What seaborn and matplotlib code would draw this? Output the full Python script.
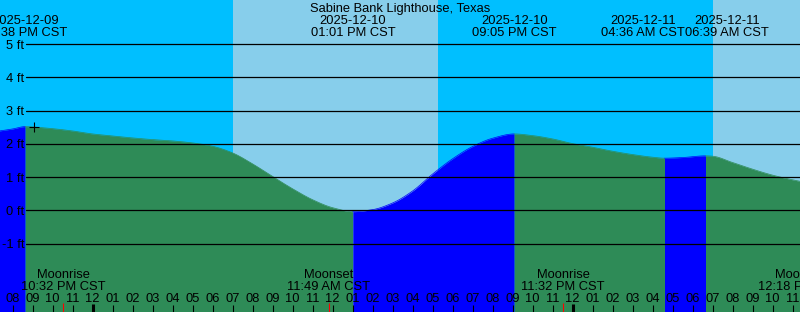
import matplotlib
matplotlib.use("Agg")
import matplotlib.pyplot as plt
import matplotlib.transforms as mtransforms
import seaborn as sns
import numpy as np
import pandas as pd

# ---------------- data (hours relative to 2025-12-10 00:00 CST) ----------------
title = "Sabine Bank Lighthouse, Texas"

tide_hours = [-5, -4, -3.367, -3, -2, -1, 0, 1, 2, 3, 4, 5, 6, 7, 8, 9, 10, 11, 12,
              13.017, 14, 15, 16, 17, 18, 19, 20, 21.083, 22, 23, 24, 25, 26, 27, 28,
              28.6, 29.5, 30.65, 31, 32, 33, 34, 35, 36]
tide_ft = [2.36, 2.45, 2.52, 2.51, 2.46, 2.39, 2.30, 2.24, 2.18, 2.13, 2.09, 2.03, 1.93,
           1.73, 1.40, 1.02, 0.65, 0.32, 0.08,
           -0.04, 0.02, 0.22, 0.58, 1.09, 1.55, 1.92, 2.17, 2.30, 2.25, 2.15, 2.01, 1.90,
           1.78, 1.68, 1.60,
           1.57, 1.59, 1.64, 1.63, 1.44, 1.24, 1.06, 0.92, 0.80]

event_hours = [-3.367, 13.017, 21.083, 28.6, 30.65]
event_dates = ["2025-12-09", "2025-12-10", "2025-12-10", "2025-12-11", "2025-12-11"]
event_times = ["08:38 PM CST", "01:01 PM CST", "09:05 PM CST", "04:36 AM CST", "06:39 AM CST"]

moon_hours = [-1.467, 11.817, 23.533, 36.3]
moon_names = ["Moonrise", "Moonset", "Moonrise", "Moonset"]
moon_times = ["10:32 PM CST", "11:49 AM CST", "11:32 PM CST", "12:18 PM CST"]

sunrise_hours = [7.0, 31.0]
sunset_hours = [17.27]

ft_levels = [-1, 0, 1, 2, 3, 4, 5]
ft_labels = ["-1 ft", "0 ft", "1 ft", "2 ft", "3 ft", "4 ft", "5 ft"]

marker_hour = -2.925
marker_ft = 2.51

# ---------------- style ----------------
sns.set_theme(style="white")
plt.rcParams["font.family"] = ["Liberation Sans", "DejaVu Sans"]
FS = 9.3

W, H = 800, 312
fig = plt.figure(figsize=(W / 100, H / 100), dpi=100)
ax = fig.add_axes([0, 0, 1, 1])
XMIN, XMAX = -4.625, 35.375
YMIN, YMAX = -3.063, 6.334

NIGHT = "#00BFFF"
DAY = "#87CEEB"
RISE = "#0000FF"
FALL = "#2E8B57"


def smooth_curve(x, y, n=12):
    """Monotone cubic (Fritsch-Carlson) rendering of the read points."""
    x = np.asarray(x, float)
    y = np.asarray(y, float)
    h = np.diff(x)
    d = np.diff(y) / h
    m = np.zeros_like(y)
    m[0], m[-1] = d[0], d[-1]
    for i in range(1, len(y) - 1):
        if d[i - 1] * d[i] <= 0:
            m[i] = 0.0
        else:
            w1 = 2 * h[i] + h[i - 1]
            w2 = h[i] + 2 * h[i - 1]
            m[i] = (w1 + w2) / (w1 / d[i - 1] + w2 / d[i])
    xs, ys = [], []
    for i in range(len(x) - 1):
        t = np.linspace(0, 1, n, endpoint=False)
        h00 = 2 * t**3 - 3 * t**2 + 1
        h10 = t**3 - 2 * t**2 + t
        h01 = -2 * t**3 + 3 * t**2
        h11 = t**3 - t**2
        xs.append(x[i] + t * h[i])
        ys.append(h00 * y[i] + h10 * h[i] * m[i] + h01 * y[i + 1] + h11 * h[i] * m[i + 1])
    xs.append([x[-1]])
    ys.append([y[-1]])
    return np.concatenate(xs), np.concatenate(ys)


# day / night background
sun = sorted([(t, "rise") for t in sunrise_hours] + [(t, "set") for t in sunset_hours])
edges = [XMIN] + [t for t, _ in sun] + [XMAX]
state = "night" if sun[0][1] == "rise" else "day"
for a, b in zip(edges[:-1], edges[1:]):
    ax.axvspan(a, b, color=NIGHT if state == "night" else DAY, lw=0, zorder=0)
    state = "day" if state == "night" else "night"

# tide fill, coloured by rising / falling
sx, sy = smooth_curve(tide_hours, tide_ft)
df = pd.DataFrame({"hour": sx, "ft": sy})
bounds = [min(tide_hours)] + event_hours + [max(tide_hours)]
for a, b in zip(bounds[:-1], bounds[1:]):
    seg = df[(df.hour >= a - 1e-9) & (df.hour <= b + 1e-9)]
    if len(seg) < 2:
        continue
    rising = seg.ft.iloc[-1] > seg.ft.iloc[0]
    col = RISE if rising else FALL
    ax.fill_between(seg.hour, seg.ft, YMIN - 1, color=col, lw=0, zorder=1)
    sns.lineplot(data=seg, x="hour", y="ft", ax=ax, color=col, lw=0.5,
                 legend=False, zorder=1.5, sort=False)
ax.set_xlim(XMIN, XMAX)
ax.set_ylim(YMIN, YMAX)
ax.axis("off")

# horizontal grid lines and labels
for lvl in ft_levels:
    ax.axhline(lvl, xmin=26 / W, xmax=1, color="black", lw=0.9, zorder=3)
ytrans = mtransforms.offset_copy(ax.get_yaxis_transform(), fig=fig, y=-4.5, units="dots")
for lvl, lab in zip(ft_levels, ft_labels):
    ax.text(24 / W, lvl, lab, transform=ytrans, ha="right", va="baseline",
            fontsize=FS, color="black", zorder=4)

# marker
ax.plot([marker_hour], [marker_ft], marker="+", color="black", ms=6.5, mew=0.8, zorder=5)

xt = ax.get_xaxis_transform()


def yf(px):
    return 1 - px / H


# title
ax.text(0.5, yf(12), title, transform=ax.transAxes, ha="center", va="baseline",
        fontsize=FS, color="black")

# high / low labels, pushed apart if overlapping
fig.canvas.draw()
r = fig.canvas.get_renderer()


def text_w_hours(s):
    t = ax.text(0, 0, s, fontsize=FS)
    w = t.get_window_extent(r).width
    t.remove()
    return w / W * (XMAX - XMIN)


pos = list(event_hours)
for i in range(len(pos) - 1):
    need = max(text_w_hours(event_times[i]), text_w_hours(event_times[i + 1])) + 0.02
    if pos[i + 1] - pos[i] < need:
        mid = (pos[i] + pos[i + 1]) / 2
        pos[i], pos[i + 1] = mid - need / 2, mid + need / 2
for p, d, tm in zip(pos, event_dates, event_times):
    ax.text(p, yf(24), d, transform=xt, ha="center", va="baseline", fontsize=FS,
            color="black", clip_on=False)
    ax.text(p, yf(36), tm, transform=xt, ha="center", va="baseline", fontsize=FS,
            color="black", clip_on=False)

# moon labels
for mh, mn, mt in zip(moon_hours, moon_names, moon_times):
    p = min(mh, XMAX)
    ax.text(p, yf(278), mn, transform=xt, ha="center", va="baseline", fontsize=FS,
            color="black", zorder=6)
    ax.text(p, yf(289.5), mt, transform=xt, ha="center", va="baseline", fontsize=FS,
            color="black", zorder=6)

# hour ticks and labels
for h in range(-5, 37):
    hod = h % 24
    lab = "%02d" % (((hod - 1) % 12) + 1)
    ax.text(h, yf(301.7), lab, transform=xt, ha="center", va="baseline", fontsize=FS,
            color="black", zorder=6)
    if hod == 0:
        ax.vlines(h, 0, yf(304), transform=xt, color="black", lw=2.2, zorder=6)
    else:
        ax.vlines(h, 0, yf(305), transform=xt, color="black", lw=0.8, zorder=6)
for mh in moon_hours:
    ax.vlines(mh, 0, yf(303), transform=xt, color="red", lw=0.8, zorder=7)

fig.savefig("out.png", dpi=100)
